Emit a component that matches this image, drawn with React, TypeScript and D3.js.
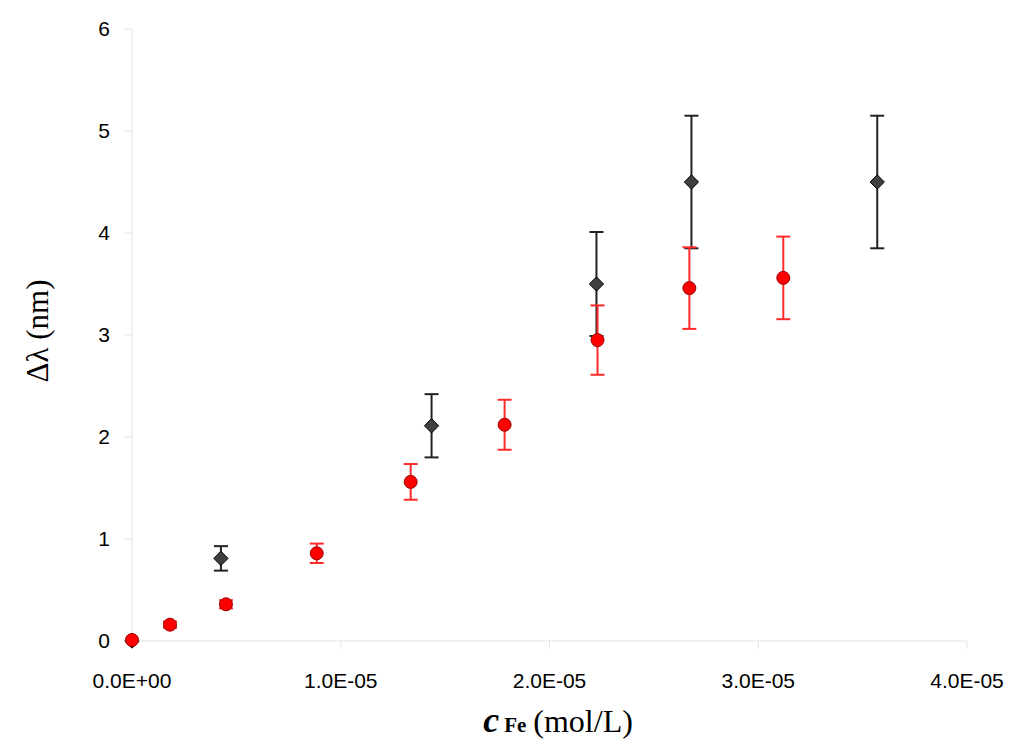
import { useEffect, useRef } from 'react';
import * as d3 from 'd3';

// black diamonds: [c, delta, err]
const diamondX = [0, 4.26e-6, 1.435e-5, 2.225e-5, 2.68e-5, 3.57e-5];
const diamondY = [0, 0.81, 2.11, 3.5, 4.5, 4.5];
const diamondErr = [0, 0.12, 0.31, 0.51, 0.65, 0.65];

// red circles
const circleX = [0, 1.82e-6, 4.5e-6, 8.85e-6, 1.335e-5, 1.785e-5, 2.23e-5, 2.67e-5, 3.12e-5];
const circleY = [0.01, 0.16, 0.36, 0.86, 1.56, 2.12, 2.95, 3.46, 3.56];
const circleErr = [0, 0.03, 0.04, 0.095, 0.175, 0.245, 0.34, 0.4, 0.405];

const xTicks = [0, 1e-5, 2e-5, 3e-5, 4e-5];
const xTickLabels = ['0.0E+00', '1.0E-05', '2.0E-05', '3.0E-05', '4.0E-05'];
const yTicks = [0, 1, 2, 3, 4, 5, 6];

export default function App() {
  const svgRef = useRef<SVGSVGElement | null>(null);

  const W = 1024;
  const H = 755;

  useEffect(() => {
    const svg = d3.select(svgRef.current);
    svg.selectAll('*').remove();

    const x = d3.scaleLinear().domain([0, 4e-5]).range([132, 967]);
    const y = d3.scaleLinear().domain([0, 6]).range([641, 29]);

    const axisColor = '#e4e4e4';

    // axis lines
    svg.append('line')
      .attr('x1', x(0)).attr('x2', x(4e-5))
      .attr('y1', y(0)).attr('y2', y(0))
      .attr('stroke', axisColor);
    svg.append('line')
      .attr('x1', x(0)).attr('x2', x(0))
      .attr('y1', y(0)).attr('y2', y(6))
      .attr('stroke', axisColor);

    // y ticks
    yTicks.forEach((t) => {
      svg.append('line')
        .attr('x1', x(0) - 8).attr('x2', x(0))
        .attr('y1', y(t)).attr('y2', y(t))
        .attr('stroke', axisColor);
      svg.append('text')
        .attr('x', 110)
        .attr('y', y(t) + 7)
        .attr('text-anchor', 'end')
        .attr('font-family', 'Liberation Sans, Arial, sans-serif')
        .attr('font-size', 21)
        .attr('fill', '#000')
        .text(t);
    });

    // x ticks
    xTicks.forEach((t, i) => {
      svg.append('line')
        .attr('x1', x(t)).attr('x2', x(t))
        .attr('y1', y(0)).attr('y2', y(0) + 8)
        .attr('stroke', axisColor);
      svg.append('text')
        .attr('x', x(t))
        .attr('y', 688)
        .attr('text-anchor', 'middle')
        .attr('font-family', 'Liberation Sans, Arial, sans-serif')
        .attr('font-size', 21)
        .attr('fill', '#000')
        .text(xTickLabels[i]);
    });

    // axis titles
    const xt = svg.append('text')
      .attr('x', 558)
      .attr('y', 732)
      .attr('text-anchor', 'middle')
      .attr('font-family', 'Liberation Serif, Times New Roman, serif')
      .attr('font-size', 32)
      .attr('fill', '#000');
    xt.append('tspan').attr('font-weight', 'bold').attr('font-style', 'italic').attr('font-size', 36).text('c');
    xt.append('tspan').attr('font-weight', 'bold').attr('font-size', 21).attr('dx', 5).text('Fe');
    xt.append('tspan').attr('dx', 7).text('(mol/L)');

    svg.append('text')
      .attr('transform', `translate(48, 331) rotate(-90)`)
      .attr('text-anchor', 'middle')
      .attr('font-family', 'Liberation Serif, Times New Roman, serif')
      .attr('font-size', 31)
      .attr('fill', '#000')
      .text('Δλ (nm)');

    const drawErr = (cx: number[], cy: number[], ce: number[], color: string) => {
      cx.forEach((v, i) => {
        if (ce[i] <= 0) return;
        const px = x(v);
        const top = y(cy[i] + ce[i]);
        const bot = y(cy[i] - ce[i]);
        const g = svg.append('g').attr('stroke', color).attr('stroke-width', 2);
        g.append('line').attr('x1', px).attr('x2', px).attr('y1', top).attr('y2', bot);
        g.append('line').attr('x1', px - 7).attr('x2', px + 7).attr('y1', top).attr('y2', top);
        g.append('line').attr('x1', px - 7).attr('x2', px + 7).attr('y1', bot).attr('y2', bot);
      });
    };

    // black series
    drawErr(diamondX, diamondY, diamondErr, '#222');
    const diamond = d3.symbol().type(d3.symbolDiamond2).size(130);
    diamondX.forEach((v, i) => {
      svg.append('path')
        .attr('d', diamond()!)
        .attr('transform', `translate(${x(v)},${y(diamondY[i])})`)
        .attr('fill', '#404040')
        .attr('stroke', '#000')
        .attr('stroke-width', 1);
    });

    // red series
    drawErr(circleX, circleY, circleErr, '#ff2a2a');
    circleX.forEach((v, i) => {
      svg.append('circle')
        .attr('cx', x(v))
        .attr('cy', y(circleY[i]))
        .attr('r', 6.5)
        .attr('fill', '#ff0000')
        .attr('stroke', '#990000')
        .attr('stroke-width', 1);
    });
  }, []);

  return (
    <svg
      ref={svgRef}
      width={W}
      height={H}
      style={{ position: 'absolute', left: 0, top: 0, background: '#fff' }}
    />
  );
}
